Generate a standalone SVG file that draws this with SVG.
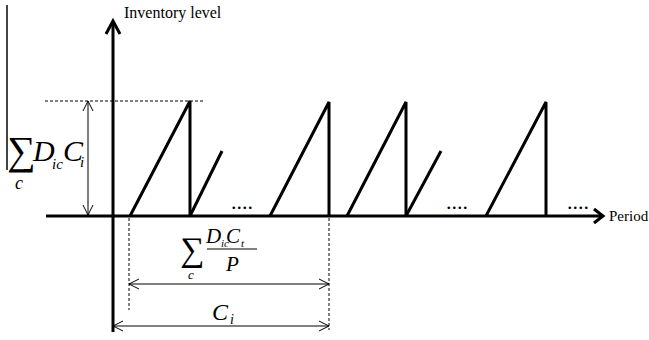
<svg xmlns="http://www.w3.org/2000/svg" width="649" height="340" viewBox="0 0 649 340">
<style>
.ax{stroke:#000;stroke-width:3;fill:none;stroke-linecap:butt}
.saw{stroke:#000;stroke-width:3;fill:none;stroke-linejoin:miter}
.thin{stroke:#000;stroke-width:1;fill:none}
.dash{stroke:#000;stroke-width:1;fill:none;stroke-dasharray:3,2}
.t{font-family:"Liberation Serif","Times New Roman",serif;fill:#000}
.i{font-style:italic}
</style>
<rect width="649" height="340" fill="#fff"/>
<line x1="7" y1="5" x2="7" y2="170" stroke="#444" stroke-width="2"/>
<g id="axes">
<line class="ax" x1="113" y1="21" x2="113" y2="332"/>
<polyline class="ax" points="106,34 113,21 120,34"/>
<line class="ax" x1="46" y1="216" x2="603" y2="216"/>
<polyline class="ax" points="594,209 603,216 594,223"/>
</g>
<text class="t" x="124" y="18" font-size="16">Inventory level</text>
<text class="t" x="609" y="221" font-size="15">Period</text>
<g id="sawtooth">
<polyline class="saw" points="130,216 190,101 190,216"/>
<line class="saw" x1="190" y1="216" x2="222" y2="151"/>
<polyline class="saw" points="270,216 329,102 329,216"/>
<polyline class="saw" points="347,216 406,102 406,216"/>
<line class="saw" x1="406" y1="216" x2="441" y2="151"/>
<polyline class="saw" points="486,216 546,102 546,216"/>
</g>
<g class="t" font-size="22">
<text x="231" y="209">....</text>
<text x="446" y="209">....</text>
<text x="567" y="209">....</text>
</g>
<g id="dims">
<line class="dash" x1="45" y1="101" x2="205" y2="101"/>
<line class="thin" x1="88" y1="101" x2="88" y2="215"/>
<polyline class="thin" points="83,111 88,101 93,111"/>
<polyline class="thin" points="83,205 88,215 93,205"/>
<line class="dash" x1="129" y1="218" x2="129" y2="310"/>
<line class="dash" x1="329" y1="218" x2="329" y2="330"/>
<line class="thin" x1="129" y1="284" x2="329" y2="284"/>
<polyline class="thin" points="139,279 129,284 139,289"/>
<polyline class="thin" points="319,279 329,284 319,289"/>
<line class="thin" x1="113" y1="326" x2="329" y2="326"/>
<polyline class="thin" points="123,321 113,326 123,331"/>
<polyline class="thin" points="319,321 329,326 319,331"/>
</g>
<g id="label-left">
<text class="t" x="7" y="164" font-size="40">∑</text>
<text class="t i" x="33" y="161" font-size="30">D</text>
<text class="t i" x="52" y="169" font-size="15">ic</text>
<text class="t i" x="63" y="161" font-size="30">C</text>
<text class="t i" x="80" y="167" font-size="15">i</text>
<text class="t i" x="15" y="189" font-size="18">c</text>
</g>
<g id="label-frac">
<text class="t" x="180" y="261" font-size="34">∑</text>
<text class="t i" x="188" y="279" font-size="13">c</text>
<text class="t i" x="206" y="243" font-size="21">D</text>
<text class="t i" x="221" y="247" font-size="11">ic</text>
<text class="t i" x="226" y="243" font-size="21">C</text>
<text class="t i" x="241" y="247" font-size="11">t</text>
<line x1="207" y1="249" x2="257" y2="249" stroke="#000" stroke-width="1.2"/>
<text class="t i" x="226" y="271" font-size="21">P</text>
</g>
<g id="label-ci">
<text class="t i" x="212" y="320" font-size="24">C</text>
<text class="t i" x="230" y="324" font-size="14">i</text>
</g>
</svg>
